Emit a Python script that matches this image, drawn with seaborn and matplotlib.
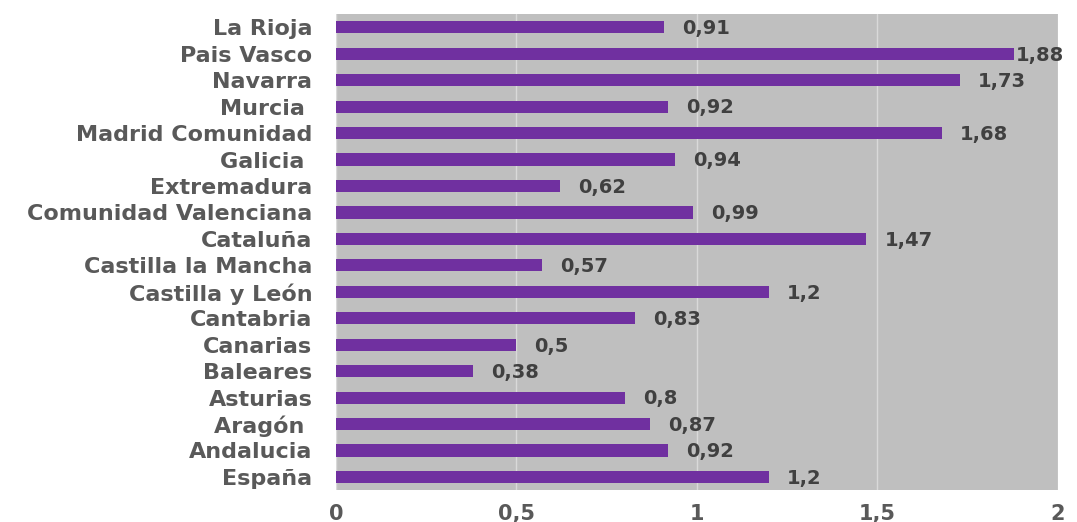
import matplotlib
matplotlib.use('Agg')
import matplotlib.pyplot as plt
import seaborn as sns

# Regions listed top to bottom as in the chart
regions = ['La Rioja', 'Pais Vasco', 'Navarra', 'Murcia ', 'Madrid Comunidad', 'Galicia ',
           'Extremadura', 'Comunidad Valenciana', 'Cataluña', 'Castilla la Mancha',
           'Castilla y León', 'Cantabria', 'Canarias', 'Baleares', 'Asturias', 'Aragón ',
           'Andalucia', 'España']
values = [0.91, 1.88, 1.73, 0.92, 1.68, 0.94, 0.62, 0.99, 1.47, 0.57,
          1.2, 0.83, 0.5, 0.38, 0.8, 0.87, 0.92, 1.2]
xticks = [0, 0.5, 1, 1.5, 2]
xtick_labels = ['0', '0,5', '1', '1,5', '2']

text_color = '#595959'
value_color = '#404040'
bar_color = '#7030A0'

sns.set_style('white')
plt.rcParams['font.family'] = ['DejaVu Sans']

fig = plt.figure(figsize=(10.77, 5.22), dpi=100)
ax = fig.add_axes([0.312, 0.061, 0.670, 0.912])
ax.set_facecolor('#BFBFBF')

sns.barplot(x=values, y=regions, orient='h', color=bar_color, width=0.46,
            saturation=1, linewidth=0, ax=ax)

ax.set_xlim(0, 2)
ax.set_xticks(xticks)
ax.set_xticklabels(xtick_labels)
ax.xaxis.grid(True, color='#D9D9D9', linewidth=1)
ax.set_axisbelow(True)
for s in ax.spines.values():
    s.set_visible(False)

ax.tick_params(axis='both', length=0, colors=text_color)
ax.tick_params(axis='x', pad=10, labelsize=15)
ax.tick_params(axis='y', pad=17, labelsize=16)
for lbl in ax.get_xticklabels() + ax.get_yticklabels():
    lbl.set_fontweight('bold')

# value labels, pushed in near the right edge so they stay on the figure
for i, v in enumerate(values):
    ax.text(min(v + 0.05, 1.885), i + 0.05, f'{v:g}'.replace('.', ','), va='center', ha='left',
            fontsize=14, fontweight='bold', color=value_color, clip_on=False)

ax.set_xlabel('')
ax.set_ylabel('')

fig.savefig('out.png', dpi=100)
